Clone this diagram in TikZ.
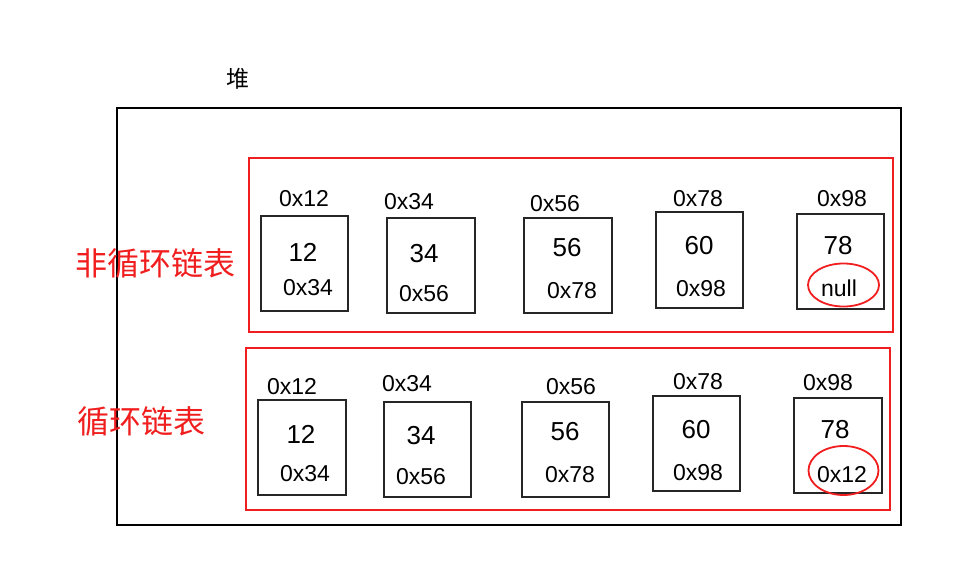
\documentclass[tikz,border=0pt]{standalone}
\usepackage{fontspec}
\setmainfont{Liberation Sans}
\newfontfamily\cjk{Noto Sans CJK SC}
\definecolor{myred}{RGB}{240,30,30}
\begin{document}
\begin{tikzpicture}[x=1pt,y=-1pt,
  cell/.style={draw=black!85,line width=1.3pt,fill=none},
  redbox/.style={draw=myred,line width=1.6pt},
  lbl/.style={inner sep=0pt,font=\fontsize{23}{23}\selectfont},
  val/.style={inner sep=0pt,font=\fontsize{26}{26}\selectfont},
  cn/.style={inner sep=0pt,text=myred,font=\cjk\fontsize{32}{32}\selectfont},
  ring/.style={draw=myred,line width=1.8pt}]
\useasboundingbox (0,0) rectangle (972,582);
\draw[line width=2.8pt] (117,108) rectangle (901,525);
\node[inner sep=0pt,font=\cjk\fontsize{23}{23}\selectfont] (heap) at (238,79) {堆};
\draw[redbox] (249,158) rectangle (893,332);
\draw[redbox] (246,348) rectangle (890,510);
\node[cn] (t1) at (155,263) {非循环链表};
\node[cn] (t2) at (141,421) {循环链表};
% top row
\draw[cell] (261,216) rectangle (348,311);
\node[lbl] (a1) at (304,199) {0x12};
\node[val] (v1) at (303,252) {12};
\node[lbl] (p1) at (308,288) {0x34};
\draw[cell] (387,218) rectangle (475,313);
\node[lbl] (a2) at (409,202) {0x34};
\node[val] (v2) at (424,254) {34};
\node[lbl] (p2) at (424,294) {0x56};
\draw[cell] (524,218) rectangle (612,313);
\node[lbl] (a3) at (555,204) {0x56};
\node[val] (v3) at (567,248) {56};
\node[lbl] (p3) at (572,291) {0x78};
\draw[cell] (656,212) rectangle (743,308);
\node[lbl] (a4) at (698,199) {0x78};
\node[val] (v4) at (699,246) {60};
\node[lbl] (p4) at (701,289) {0x98};
\draw[cell] (797,214) rectangle (884,309);
\node[lbl] (a5) at (842,199) {0x98};
\node[val] (v5) at (838,246) {78};
\node[lbl] (p5) at (839,288) {null};
\draw[ring] (843.5,285) ellipse [x radius=35.5, y radius=21.5];
% bottom row
\draw[cell] (258,400) rectangle (346,495);
\node[lbl] (b1) at (292,387) {0x12};
\node[val] (w1) at (301,434) {12};
\node[lbl] (q1) at (305,474) {0x34};
\draw[cell] (384,402) rectangle (471,497);
\node[lbl] (b2) at (407,384) {0x34};
\node[val] (w2) at (421,436) {34};
\node[lbl] (q2) at (421,477) {0x56};
\draw[cell] (522,402) rectangle (609,497);
\node[lbl] (b3) at (571,387) {0x56};
\node[val] (w3) at (565,432) {56};
\node[lbl] (q3) at (570,475) {0x78};
\draw[cell] (653,396) rectangle (740,491);
\node[lbl] (b4) at (698,382) {0x78};
\node[val] (w4) at (696,430) {60};
\node[lbl] (q4) at (698,473) {0x98};
\draw[cell] (794,398) rectangle (882,493);
\node[lbl] (b5) at (828,383) {0x98};
\node[val] (w5) at (835,430) {78};
\node[lbl] (q5) at (842,475) {0x12};
\draw[ring] (843.5,470.5) ellipse [x radius=35, y radius=24.5];
\end{tikzpicture}
\end{document}
